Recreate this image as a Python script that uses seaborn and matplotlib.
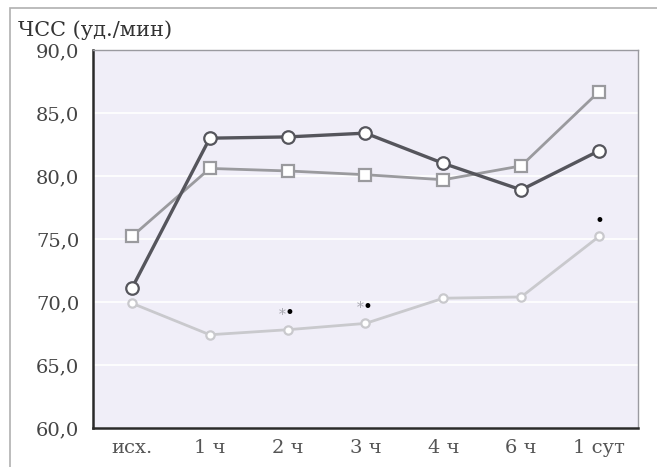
import matplotlib
matplotlib.use("Agg")
import matplotlib.pyplot as plt
from matplotlib.patches import Rectangle
import pandas as pd
import seaborn as sns

# data
categories = ["исх.", "1 ч", "2 ч", "3 ч", "4 ч", "6 ч", "1 сут"]
hr_circle = [71.1, 83.0, 83.1, 83.4, 81.0, 78.9, 82.0]
hr_square = [75.2, 80.6, 80.4, 80.1, 79.7, 80.8, 86.7]
hr_light = [69.9, 67.4, 67.8, 68.3, 70.3, 70.4, 75.2]
y_ticks = [60, 65, 70, 75, 80, 85, 90]

# significance marks (category, y, gray mark shown?)
mark_cats = ["2 ч", "3 ч", "1 сут"]
mark_y = [69.1, 69.6, 76.4]
mark_gray = [True, True, False]

series_names = ["circle", "square", "light"]
df = pd.DataFrame({
    "t": categories * 3,
    "hr": hr_circle + hr_square + hr_light,
    "series": sum([[s] * len(categories) for s in series_names], []),
})

sns.set_style("white")
plt.rcParams['font.family'] = ['DejaVu Serif']

fig = plt.figure(figsize=(6.57, 4.67), dpi=100)
ax = fig.add_axes([0.1416, 0.0835, 0.971 - 0.1416, 0.893 - 0.0835])
ax.set_facecolor("#f0eef8")

styles = {
    "circle": dict(color="#55555c", lw=2.4, marker="o", ms=9),
    "square": dict(color="#9a9a9e", lw=2.0, marker="s", ms=9),
    "light": dict(color="#c9c9cd", lw=2.0, marker="o", ms=6),
}
for name in ["light", "square", "circle"]:
    st = styles[name]
    sns.lineplot(data=df[df.series == name], x="t", y="hr", ax=ax, sort=False,
                 color=st["color"], linewidth=st["lw"], marker=st["marker"],
                 markersize=st["ms"], markerfacecolor="white",
                 markeredgecolor=st["color"], markeredgewidth=1.6, zorder=3)

for c, y, g in zip(mark_cats, mark_y, mark_gray):
    xi = categories.index(c)
    if g:
        ax.annotate("*", (xi, y), xytext=(-1.5, -1), textcoords="offset points",
                    ha="right", va="center", fontsize=10, color="#a8a8b0")
    ax.annotate("•", (xi, y), xytext=(1.5 if g else 0, 0), textcoords="offset points",
                ha="center", va="center", fontsize=12, color="black")

ax.set_xlim(-0.5, len(categories) - 0.5)
ax.set_ylim(60, 90)
ax.set_yticks(y_ticks)
ax.set_yticklabels([f"{v:.1f}".replace(".", ",") for v in y_ticks])
ax.set_xticks(range(len(categories)))
ax.set_xticklabels(categories)
ax.set_xticks([i + 0.5 for i in range(len(categories) - 1)], minor=True)
ax.tick_params(axis="x", which="major", length=0, pad=8, labelsize=14, labelcolor="#555555")
ax.tick_params(axis="x", which="minor", length=6, width=1.5, color="#333333", direction="out")
ax.tick_params(axis="y", length=6, width=1.5, color="#333333", direction="out",
               labelsize=14, labelcolor="#444444", pad=4)
ax.set_xlabel("")
ax.set_ylabel("")
ax.yaxis.grid(True, color="white", linewidth=1.2)
ax.set_axisbelow(True)

for s in ["left", "bottom"]:
    ax.spines[s].set_color("#2a2a2a")
    ax.spines[s].set_linewidth(1.8)
for s in ["top", "right"]:
    ax.spines[s].set_color("#9a9aa0")
    ax.spines[s].set_linewidth(1.0)

fig.text(18 / 657, 1 - 30 / 467, "ЧСС (уд./мин)", ha="left", va="center",
         fontsize=15, color="#333333")

fig.patches.append(Rectangle((10 / 657, -0.05), 650 / 657, 1.05 - 8 / 467,
                             transform=fig.transFigure, fill=False,
                             edgecolor="#b0b0b0", linewidth=1.2))

fig.savefig("out.png", dpi=100)
